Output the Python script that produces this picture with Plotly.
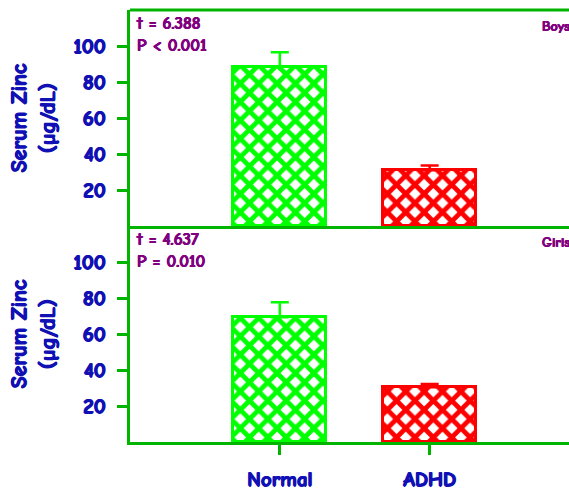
import plotly.graph_objects as go
from plotly.subplots import make_subplots

categories = ["Normal", "ADHD"]
boys_values = [88.5, 31.0]
boys_errors = [8.0, 2.6]
girls_values = [69.3, 30.4]
girls_errors = [8.3, 1.8]
bar_colors = ["#00FF00", "#FF0000"]
y_ticks = [20, 40, 60, 80, 100]
boys_stats = ["t = 6.388", "P < 0.001"]
girls_stats = ["t = 4.637", "P = 0.010"]
panel_labels = ["Boys", "Girls"]

AXIS_GREEN = "#00B400"
BLUE = "#1010B4"
PURPLE = "#800080"
FONT = "Comic Sans MS, Comic Neue, Lato, Noto Sans, sans-serif"


def heavy(color, d=0.7):
    return f"{d}px 0 0 {color}, -{d}px 0 0 {color}, 0 {d/2}px 0 {color}"


fig = make_subplots(rows=2, cols=1, shared_xaxes=True, vertical_spacing=0)

for row, (vals, errs) in enumerate([(boys_values, boys_errors), (girls_values, girls_errors)], start=1):
    for cat, v, e, c in zip(categories, vals, errs, bar_colors):
        fig.add_trace(go.Bar(
            x=[cat], y=[v], width=0.62,
            marker=dict(color="white", line=dict(color=c, width=3),
                        pattern=dict(shape="x", fgcolor=c, bgcolor="white", fgopacity=1,
                                     size=13, solidity=0.6)),
            error_y=dict(type="data", array=[e], arrayminus=[0], symmetric=False,
                         color=c, thickness=2.5, width=9),
            showlegend=False,
        ), row=row, col=1)

for row in (1, 2):
    fig.update_yaxes(range=[0, 120], tickvals=y_ticks,
                     showgrid=False, zeroline=False,
                     showline=True, linecolor=AXIS_GREEN, linewidth=3,
                     ticks="outside", ticklen=10, tickwidth=3, tickcolor=AXIS_GREEN,
                     tickfont=dict(family=FONT, size=21, color=BLUE, weight=700, shadow=heavy(BLUE)),
                     ticklabelstandoff=7, row=row, col=1)
    fig.update_xaxes(type="category", categoryorder="array", categoryarray=categories,
                     range=[-1, 1.93], showgrid=False, zeroline=False,
                     showline=True, linecolor=AXIS_GREEN, linewidth=3,
                     row=row, col=1)

fig.update_xaxes(showticklabels=False, ticks="", row=1, col=1)
fig.update_xaxes(ticks="outside", ticklen=10, tickwidth=3, tickcolor=AXIS_GREEN,
                 tickfont=dict(family=FONT, size=21, color=BLUE, weight=700, shadow=heavy(BLUE)),
                 ticklabelstandoff=6, row=2, col=1)

fig.add_shape(type="line", xref="paper", yref="paper", x0=0, x1=1, y0=1, y1=1,
              line=dict(color=AXIS_GREEN, width=3))

annotations = []
for yref, stats, label in [("y domain", boys_stats, panel_labels[0]), ("y2 domain", girls_stats, panel_labels[1])]:
    annotations.append(dict(xref="paper", yref=yref, x=0.01, y=0.99, xanchor="left", yanchor="top",
                            text=f"{stats[0]}<br>{stats[1]}", showarrow=False, align="left",
                            font=dict(family=FONT, size=17, color=PURPLE, weight=700,
                                      shadow=heavy(PURPLE, 0.5))))
    annotations.append(dict(xref="paper", yref=yref, x=0.934, y=0.97, xanchor="left", yanchor="top",
                            text=label, showarrow=False, align="left",
                            font=dict(family=FONT, size=14, color=PURPLE, weight=700,
                                      shadow=heavy(PURPLE, 0.5))))
    annotations.append(dict(xref="paper", yref=yref, x=-0.22, y=0.5, xanchor="center", yanchor="middle",
                            text="Serum Zinc<br>(µg/dL)", showarrow=False, textangle=-90,
                            font=dict(family=FONT, size=22, color=BLUE, weight=700,
                                      shadow=heavy(BLUE))))

fig.update_layout(
    width=569, height=492,
    margin=dict(l=130, r=0, t=10, b=50),
    plot_bgcolor="white", paper_bgcolor="white",
    font=dict(family=FONT, color=BLUE, weight=700),
    annotations=annotations,
    bargap=0,
)

fig.write_html("out.html", config={"displayModeBar": False},
               post_script="document.body.style.margin='0';document.body.style.overflow='hidden';")
